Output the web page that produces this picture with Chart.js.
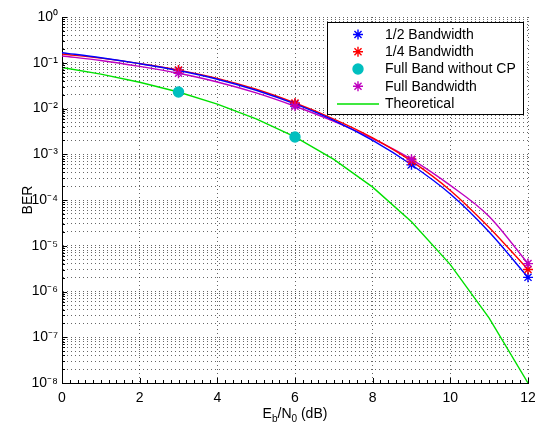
<!DOCTYPE html>
<html>
<head>
<meta charset="utf-8">
<script src="https://cdn.jsdelivr.net/npm/chart.js@4.4.1/dist/chart.umd.min.js"></script>
<style>
html,body{margin:0;padding:0;background:#ffffff;}
#wrap{position:relative;width:535px;height:424px;}
</style>
</head>
<body>
<div id="wrap"><canvas id="c" width="535" height="424"></canvas></div>
<script>
// ---- data ----
const ebn0 = [0, 1, 2, 3, 4, 5, 6, 7, 8, 9, 10, 11, 12];
const berHalfBand    = [0.166, 0.129, 0.0955, 0.0676, 0.0437, 0.0251, 0.0126, 0.0055, 0.0020, 5.89e-4, 1.35e-4, 2.0e-5, 2.04e-6];
const berQuarterBand = [0.155, 0.126, 0.0955, 0.0692, 0.0457, 0.0263, 0.0132, 0.00589, 0.00229, 7.08e-4, 1.62e-4, 2.51e-5, 3.02e-6];
const berFullBand    = [0.141, 0.112, 0.0832, 0.0589, 0.0380, 0.0219, 0.0112, 0.00525, 0.00219, 7.76e-4, 2.09e-4, 4.37e-5, 4.07e-6];
const berTheoretical = [0.0786, 0.0563, 0.0375, 0.0229, 0.0125, 0.00595, 0.00239, 7.73e-4, 1.91e-4, 3.36e-5, 3.87e-6, 2.61e-7, 1.0e-8];

const markerEbn0 = [3, 6, 9, 12];
const halfBandMarkers    = [0.0676, 0.0126, 5.89e-4, 2.04e-6];
const quarterBandMarkers = [0.0692, 0.0132, 7.08e-4, 3.02e-6];
const fullBandMarkers    = [0.0589, 0.0112, 7.76e-4, 4.07e-6];
const noCpEbn0 = [3, 6];
const noCpMarkers = [0.0229, 0.00239];

const xTickValues = [0, 2, 4, 6, 8, 10, 12];
const yDecadeValues = [1e-8, 1e-7, 1e-6, 1e-5, 1e-4, 1e-3, 1e-2, 1e-1, 1];
const yTickLabels = ['10\u207B\u2078', '10\u207B\u2077', '10\u207B\u2076', '10\u207B\u2075', '10\u207B\u2074', '10\u207B\u00B3', '10\u207B\u00B2', '10\u207B\u00B9', '10\u2070'];

const seriesNames = ['1/2 Bandwidth', '1/4 Bandwidth', 'Full Band without CP', 'Full Bandwidth', 'Theoretical'];

// ---- styles ----
const BLUE = '#0000ff', RED = '#ff0000', CYAN = 'rgb(0,191,191)', MAGENTA = 'rgb(191,0,191)', GREEN = '#00e000';
const FONT = '"Liberation Sans", Arial, Helvetica, sans-serif';

const pts = (xs, ys) => xs.map((x, i) => ({x: x, y: ys[i]}));

// grid values for the log axis (1..9 per decade)
const yGridValues = [];
for (let d = 0; d < yDecadeValues.length - 1; d++) {
  for (let k = 1; k <= 9; k++) yGridValues.push(yDecadeValues[d] * k);
}
yGridValues.push(1);

function curve(label, data, color, order, tension) {
  return {label, data, borderColor: color, backgroundColor: color, borderWidth: 1.4,
    pointRadius: 0, showLine: true, fill: false, order,
    tension: tension, cubicInterpolationMode: tension > 0 ? 'monotone' : 'default'};
}
function markers(label, data, color, style, order, r) {
  return {label, data, borderColor: color, backgroundColor: color, showLine: false,
    pointStyle: style, pointRadius: r, pointBorderWidth: 1.4, order, clip: false};
}

const datasets = [
  markers(seriesNames[3], pts(markerEbn0, fullBandMarkers), MAGENTA, 'star', 0, 5),
  markers(seriesNames[2], pts(noCpEbn0, noCpMarkers), CYAN, 'circle', 1, 5),
  markers(seriesNames[1], pts(markerEbn0, quarterBandMarkers), RED, 'star', 2, 5),
  markers(seriesNames[0], pts(markerEbn0, halfBandMarkers), BLUE, 'star', 3, 5),
  curve('half curve', pts(ebn0, berHalfBand), BLUE, 4, 0.4),
  curve('quarter curve', pts(ebn0, berQuarterBand), RED, 5, 0.4),
  curve('full curve', pts(ebn0, berFullBand), MAGENTA, 6, 0.4),
  curve(seriesNames[4], pts(ebn0, berTheoretical), GREEN, 7, 0)
];

const legendItems = [
  {label: seriesNames[0], color: BLUE, style: 'star'},
  {label: seriesNames[1], color: RED, style: 'star'},
  {label: seriesNames[2], color: CYAN, style: 'circle'},
  {label: seriesNames[3], color: MAGENTA, style: 'star'},
  {label: seriesNames[4], color: GREEN, style: 'line'}
];

const axisExtras = {
  id: 'axisExtras',
  afterDatasetsDraw(chart) {
    const ctx = chart.ctx;
    const a = chart.chartArea;
    const xs = chart.scales.x, ys = chart.scales.y;
    ctx.save();
    ctx.setLineDash([]);
    ctx.strokeStyle = '#000';
    ctx.lineWidth = 1;
    ctx.beginPath();
    // y ticks (inward)
    yGridValues.forEach(v => {
      const py = Math.round(ys.getPixelForValue(v)) + 0.5;
      const major = yDecadeValues.some(d => Math.abs(d - v) < d * 1e-9);
      ctx.moveTo(a.left, py); ctx.lineTo(a.left + (major ? 5 : 3), py);
    });
    // x ticks (inward), minor every 0.2
    for (let i = 0; i <= 60; i++) {
      const v = i * 0.2;
      const px = Math.round(xs.getPixelForValue(v)) + 0.5;
      const major = i % 10 === 0;
      ctx.moveTo(px, a.bottom); ctx.lineTo(px, a.bottom - (major ? 5 : 3));
    }
    ctx.stroke();

    // x axis title with subscripts
    const parts = [
      {t: 'E', s: 14, dy: 0}, {t: 'b', s: 10, dy: 4}, {t: '/N', s: 14, dy: 0},
      {t: '0', s: 10, dy: 4}, {t: ' (dB)', s: 14, dy: 0}
    ];
    let total = 0;
    parts.forEach(p => { ctx.font = p.s + 'px ' + FONT; p.w = ctx.measureText(p.t).width; total += p.w; });
    let x = (a.left + a.right) / 2 - total / 2;
    const base = 418;
    ctx.fillStyle = '#000';
    ctx.textBaseline = 'alphabetic';
    ctx.textAlign = 'left';
    parts.forEach(p => { ctx.font = p.s + 'px ' + FONT; ctx.fillText(p.t, x, base + p.dy); x += p.w; });
    ctx.restore();
  },
  afterDraw(chart) {
    const ctx = chart.ctx;
    ctx.save();
    ctx.setLineDash([]);
    ctx.globalAlpha = 1;
    const bx = 327.5, by = 22.5, bw = 196, bh = 92;
    ctx.fillStyle = '#fff';
    ctx.fillRect(bx, by, bw, bh);
    ctx.strokeStyle = '#000';
    ctx.lineWidth = 1;
    ctx.strokeRect(bx, by, bw, bh);
    ctx.font = '14px ' + FONT;
    ctx.textBaseline = 'middle';
    ctx.textAlign = 'left';
    legendItems.forEach((it, i) => {
      const y = 34.5 + i * 17.25;
      ctx.setLineDash([]);
      ctx.strokeStyle = it.color;
      ctx.fillStyle = it.color;
      if (it.style === 'line') {
        ctx.lineWidth = 1.6;
        ctx.beginPath(); ctx.moveTo(337, Math.round(y)); ctx.lineTo(379, Math.round(y)); ctx.stroke();
      } else {
        ctx.lineWidth = 1.4;
        Chart.helpers.drawPoint(ctx, {pointStyle: it.style, radius: 5, rotation: 0, borderWidth: 1.4}, 358, y);
      }
      ctx.fillStyle = '#000';
      ctx.fillText(it.label, 385, y + 0.5);
    });
    ctx.restore();
  }
};

new Chart(document.getElementById('c'), {
  type: 'line',
  data: {datasets},
  options: {
    responsive: false,
    animation: false,
    devicePixelRatio: 1,
    layout: {padding: {top: 17, right: 7, left: 0, bottom: 0}},
    plugins: {legend: {display: false}, tooltip: {enabled: false}},
    scales: {
      x: {
        type: 'linear', min: 0, max: 12,
        afterBuildTicks: s => { s.ticks = xTickValues.map(v => ({value: v})); },
        afterFit: s => { s.height = 41; s.paddingLeft = 0; s.paddingRight = 0; },
        ticks: {color: '#000', font: {family: FONT, size: 14}, padding: 7, autoSkip: false, maxRotation: 0},
        grid: {color: 'rgba(0,0,0,0.6)', lineWidth: 1, drawTicks: false},
        border: {color: '#000', width: 1, dash: [1, 3]}
      },
      y: {
        type: 'logarithmic', min: 1e-8, max: 1,
        afterBuildTicks: s => { s.ticks = yGridValues.map(v => ({value: v})); },
        afterFit: s => { s.width = 62; s.paddingTop = 0; s.paddingBottom = 0; },
        ticks: {
          color: '#000', font: {family: FONT, size: 14}, padding: 4, autoSkip: false,
          callback: (value) => {
            const i = yDecadeValues.findIndex(d => Math.abs(d - value) < d * 1e-9);
            return i >= 0 ? yTickLabels[i] : '';
          }
        },
        grid: {color: 'rgba(0,0,0,0.6)', lineWidth: 1, drawTicks: false},
        border: {color: '#000', width: 1, dash: [1, 3]},
        title: {display: true, text: 'BER', color: '#000', font: {family: FONT, size: 14}, padding: {top: 20, bottom: 0}}
      }
    }
  },
  plugins: [axisExtras]
});
</script>
</body>
</html>
